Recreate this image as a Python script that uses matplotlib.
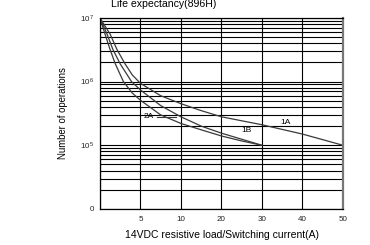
import numpy as np
from matplotlib import pyplot as plt
from matplotlib.ticker import FixedLocator, NullFormatter, LogLocator

plt.rcParams['font.family'] = ['Liberation Sans', 'DejaVu Sans']
plt.rcParams['mathtext.fontset'] = 'custom'
plt.rcParams['mathtext.rm'] = 'Liberation Sans'

# x axis ticks are evenly spaced although the values are not
x_ticks = [0, 5, 10, 20, 30, 40, 50]
x_tick_labels = ['', '5', '10', '20', '30', '40', '50']

y_ticks = [1e4, 1e5, 1e6, 1e7]
y_tick_labels = ['0', r'$\mathregular{10^{\,5}}$', r'$\mathregular{10^{\,6}}$', r'$\mathregular{10^{\,7}}$']

# curves (current A, operations)
cur_1a = [0, 1.25, 2.1, 3.1, 4.0, 5, 7.5, 10, 15, 20, 30, 40, 50]
ops_1a = [1e7, 5.6e6, 3.2e6, 1.9e6, 1.27e6, 9.4e5, 6.0e5, 4.5e5, 3.5e5, 2.8e5, 2.1e5, 1.5e5, 1e5]

cur_2a = [0, 0.875, 1.6, 2.5, 3.9, 5, 7.5, 10, 15, 20, 30]
ops_2a = [1e7, 5.6e6, 3.2e6, 1.9e6, 1.0e6, 7.4e5, 4.2e5, 2.8e5, 2.0e5, 1.55e5, 1e5]

cur_1b = [0, 0.625, 1.25, 1.9, 2.9, 4, 5, 7.5, 10, 15, 20, 25, 30]
ops_1b = [1e7, 5.6e6, 3.2e6, 1.9e6, 1.0e6, 6.6e5, 5.1e5, 3.0e5, 2.2e5, 1.75e5, 1.4e5, 1.17e5, 1e5]

x_pos = np.arange(len(x_ticks))


def fwd(v):
    return np.interp(v, x_ticks, x_pos)


def inv(p):
    return np.interp(p, x_pos, x_ticks)


fig = plt.figure(figsize=(3.7, 2.45), dpi=100)
ax = fig.add_axes([0.270, 0.147, 0.657, 0.780])

ax.set_xscale('function', functions=(fwd, inv))
ax.set_yscale('log')
ax.set_xlim(0, 50)
ax.set_ylim(1e4, 1e7)

line_c = '#3a3a3a'
ax.plot(cur_1a, ops_1a, color=line_c, lw=0.9)
ax.plot(cur_2a, ops_2a, color=line_c, lw=0.9)
ax.plot(cur_1b, ops_1b, color=line_c, lw=0.9)

# grid
ax.xaxis.set_major_locator(FixedLocator(x_ticks))
ax.set_xticklabels(x_tick_labels)
ax.yaxis.set_major_locator(FixedLocator(y_ticks))
ax.yaxis.set_minor_locator(LogLocator(base=10, subs=np.arange(2, 10)))
ax.yaxis.set_minor_formatter(NullFormatter())
ax.set_yticklabels(y_tick_labels)
ax.grid(True, which='both', axis='y', color='black', lw=0.8)
ax.grid(True, which='major', axis='x', color='black', lw=0.8)
ax.tick_params(axis='both', which='both', length=0, labelsize=5.8, colors='#222222')
ax.tick_params(axis='x', pad=5)
ax.tick_params(axis='y', pad=4)

for s in ['left', 'top', 'bottom']:
    ax.spines[s].set_color('black')
    ax.spines[s].set_linewidth(0.9)
ax.spines['right'].set_color('#777777')
ax.spines['right'].set_linewidth(1.6)

# curve labels
ax.text(35.75, 2.25e5, '1A', fontsize=6, ha='center', va='center')
ax.text(26.25, 1.7e5, '1B', fontsize=6, ha='center', va='center')
ax.text(6.0, 2.8e5, '2A', fontsize=6, ha='center', va='center')
ax.plot([7.1, 9.4], [2.8e5, 2.8e5], color=line_c, lw=0.8)

fig.text(0.443, 0.982, 'Life expectancy(896H)', fontsize=7.6, ha='center', va='center')
fig.text(0.17, 0.54, 'Number of operations', fontsize=6.9, rotation=90, ha='center', va='center')
fig.text(0.599, 0.04, '14VDC resistive load/Switching current(A)', fontsize=7.5, ha='center', va='center')

fig.savefig('out.png', dpi=100)
